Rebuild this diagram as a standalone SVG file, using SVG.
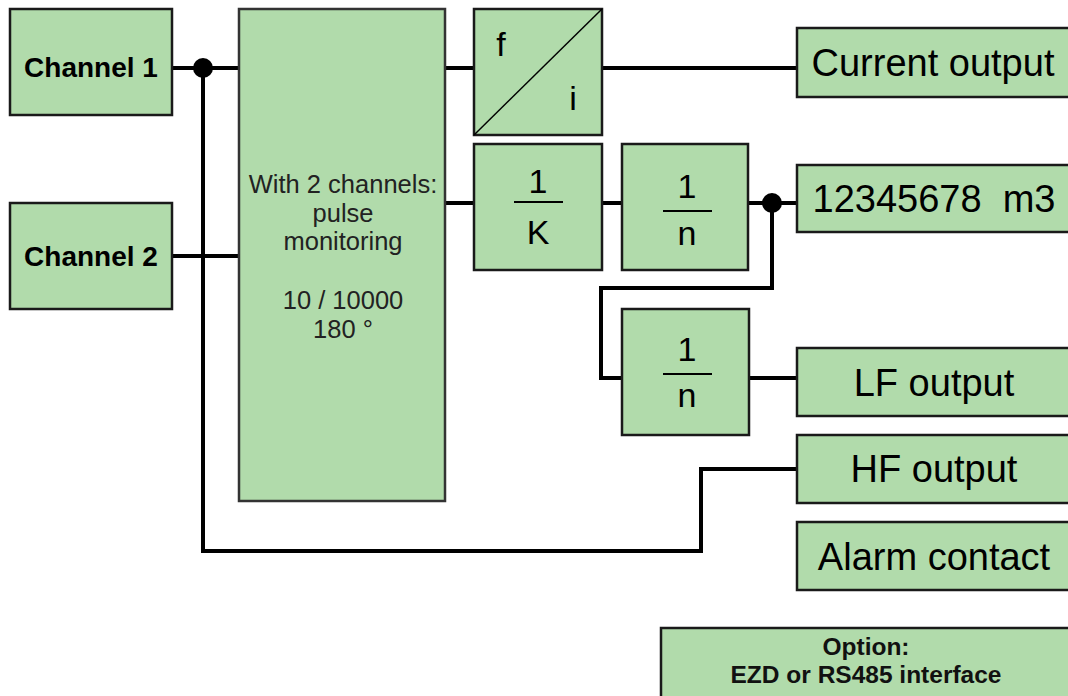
<svg xmlns="http://www.w3.org/2000/svg" width="1068" height="696" viewBox="0 0 1068 696">
<style>
.box{fill:#b1dbab;stroke:#1a1a1a;stroke-width:2.5}
.w{fill:none;stroke:#000;stroke-width:4}
.t{font-family:"Liberation Sans",Arial,sans-serif;fill:#000;text-anchor:middle}
.b{font-weight:bold;font-size:28px}
.l{font-size:38px}
.fx{font-size:34px}
.m{font-size:25.5px;fill:#222}
.ob{font-weight:bold;font-size:24.5px;fill:#111}
.fr{stroke:#000;stroke-width:2}
</style>
<rect width="1068" height="696" fill="#fff"/>
<g id="connectors">
<polyline class="w" points="172,68 239,68"/>
<polyline class="w" points="172,256 239,256"/>
<polyline class="w" points="203,68 203,551 701,551 701,469 797,469"/>
<polyline class="w" points="445,68 474,68"/>
<polyline class="w" points="602,68 797,68"/>
<polyline class="w" points="445,203 474,203"/>
<polyline class="w" points="602,203 622,203"/>
<polyline class="w" points="748,203 797,203"/>
<polyline class="w" points="772,203 772,288 601,288 601,378 622,378"/>
<polyline class="w" points="749,378 797,378"/>
<circle cx="203" cy="68" r="10" fill="#000"/>
<circle cx="772" cy="203" r="10" fill="#000"/>
</g>
<g id="channel1"><rect class="box" x="10" y="9" width="162" height="106"/><text class="t b" x="91" y="77">Channel 1</text></g>
<g id="channel2"><rect class="box" x="10" y="203" width="162" height="106"/><text class="t b" x="91" y="266">Channel 2</text></g>
<g id="monitor"><rect class="box" x="239" y="9" width="206" height="492" style="stroke:#333"/>
<text class="t m" x="343" y="193">With 2 channels:</text>
<text class="t m" x="343" y="222">pulse</text>
<text class="t m" x="343" y="250">monitoring</text>
<text class="t m" x="343" y="309">10 / 10000</text>
<text class="t m" x="343" y="338">180 °</text></g>
<g id="fi"><rect class="box" x="474" y="9" width="128" height="126"/><line x1="474" y1="135" x2="602" y2="9" stroke="#000" stroke-width="1.5"/>
<text class="t fx" x="501" y="56">f</text><text class="t fx" x="573" y="110">i</text></g>
<g id="k"><rect class="box" x="474" y="144" width="128" height="126"/>
<text class="t fx" x="538" y="193">1</text><line class="fr" x1="514" y1="202" x2="563" y2="202"/><text class="t fx" x="538" y="244">K</text></g>
<g id="n1"><rect class="box" x="622" y="144" width="126" height="126"/>
<text class="t fx" x="687" y="198">1</text><line class="fr" x1="663" y1="211" x2="712" y2="211"/><text class="t fx" x="687" y="245">n</text></g>
<g id="n2"><rect class="box" x="622" y="309" width="127" height="126"/>
<text class="t fx" x="687" y="361">1</text><line class="fr" x1="663" y1="374" x2="712" y2="374"/><text class="t fx" x="687" y="407">n</text></g>
<g id="current"><rect class="box" x="797" y="28" width="276" height="69"/><text class="t l" x="933" y="76">Current output</text></g>
<g id="counter"><rect class="box" x="797" y="165" width="276" height="67"/><text class="t l" x="934" y="212" xml:space="preserve">12345678  m3</text></g>
<g id="lf"><rect class="box" x="797" y="348" width="276" height="68"/><text class="t l" x="934" y="396">LF output</text></g>
<g id="hf"><rect class="box" x="797" y="435" width="276" height="68"/><text class="t l" x="934" y="482">HF output</text></g>
<g id="alarm"><rect class="box" x="797" y="522" width="276" height="68"/><text class="t l" x="934" y="570">Alarm contact</text></g>
<g id="option"><rect class="box" x="661" y="628" width="412" height="74"/>
<text class="t ob" x="866" y="655">Option:</text><text class="t ob" x="866" y="683">EZD or RS485 interface</text></g>
</svg>
